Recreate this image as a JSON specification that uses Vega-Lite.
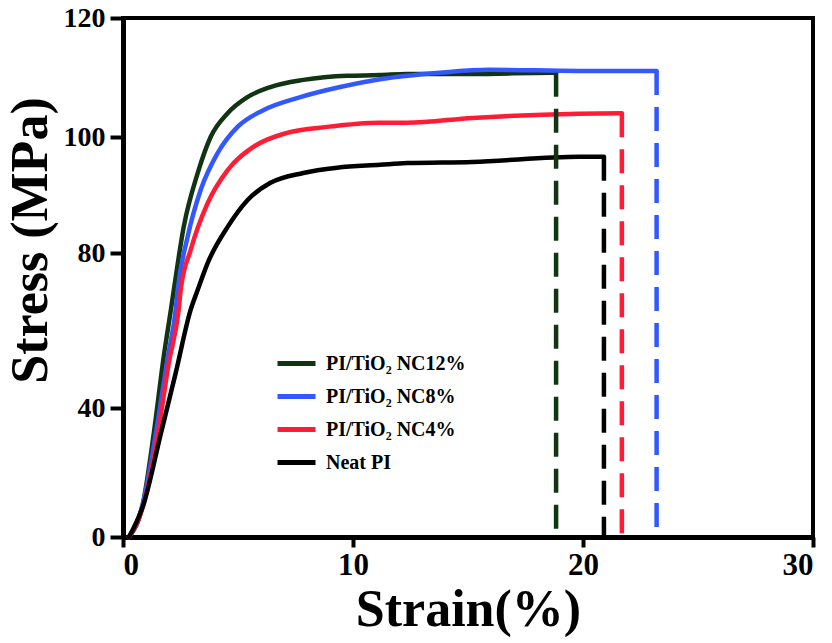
{
  "$schema": "https://vega.github.io/schema/vega-lite/v6.json",
  "width": 690,
  "height": 519,
  "autosize": {"type": "none"},
  "padding": {"left": 123, "top": 18, "right": 19, "bottom": 106},
  "background": "white",
  "config": {
    "font": "Liberation Serif",
    "view": {"stroke": "black", "strokeWidth": 4},
    "axis": {
      "domainColor": "black",
      "domainWidth": 5,
      "tickColor": "black",
      "tickWidth": 4,
      "grid": false,
      "labelFont": "Liberation Serif",
      "labelFontWeight": "bold",
      "labelColor": "black",
      "titleFont": "Liberation Serif",
      "titleFontWeight": "bold",
      "titleColor": "black",
      "titleFontSize": 52
    },
    "legend": {
      "labelFont": "Liberation Serif",
      "labelFontWeight": "bold",
      "labelFontSize": 20,
      "labelColor": "black",
      "symbolType": "stroke",
      "symbolSize": 1444,
      "symbolStrokeWidth": 5,
      "rowPadding": 1,
      "labelOffset": 8
    }
  },
  "datasets": {
    "curves": [
      {"sample": "PI/TiO₂ NC12%", "strain": 0.26, "stress": 0},
      {"sample": "PI/TiO₂ NC12%", "strain": 0.87, "stress": 10.5},
      {"sample": "PI/TiO₂ NC12%", "strain": 1.34, "stress": 32.2},
      {"sample": "PI/TiO₂ NC12%", "strain": 1.77, "stress": 53.2},
      {"sample": "PI/TiO₂ NC12%", "strain": 2.08, "stress": 65.3},
      {"sample": "PI/TiO₂ NC12%", "strain": 2.21, "stress": 70.5},
      {"sample": "PI/TiO₂ NC12%", "strain": 2.64, "stress": 84.5},
      {"sample": "PI/TiO₂ NC12%", "strain": 3.25, "stress": 93.8},
      {"sample": "PI/TiO₂ NC12%", "strain": 3.81, "stress": 100.0},
      {"sample": "PI/TiO₂ NC12%", "strain": 4.55, "stress": 104.0},
      {"sample": "PI/TiO₂ NC12%", "strain": 5.41, "stress": 106.7},
      {"sample": "PI/TiO₂ NC12%", "strain": 6.41, "stress": 108.4},
      {"sample": "PI/TiO₂ NC12%", "strain": 7.84, "stress": 109.6},
      {"sample": "PI/TiO₂ NC12%", "strain": 9.74, "stress": 110.3},
      {"sample": "PI/TiO₂ NC12%", "strain": 11.17, "stress": 110.4},
      {"sample": "PI/TiO₂ NC12%", "strain": 12.34, "stress": 110.6},
      {"sample": "PI/TiO₂ NC12%", "strain": 15.19, "stress": 110.6},
      {"sample": "PI/TiO₂ NC12%", "strain": 18.66, "stress": 110.8},
      {"sample": "PI/TiO₂ NC12%", "strain": 18.83, "stress": 110.8},
      {"sample": "PI/TiO₂ NC8%", "strain": 0.26, "stress": 0},
      {"sample": "PI/TiO₂ NC8%", "strain": 0.87, "stress": 10.5},
      {"sample": "PI/TiO₂ NC8%", "strain": 1.43, "stress": 32.2},
      {"sample": "PI/TiO₂ NC8%", "strain": 1.95, "stress": 53.2},
      {"sample": "PI/TiO₂ NC8%", "strain": 2.29, "stress": 65.3},
      {"sample": "PI/TiO₂ NC8%", "strain": 2.38, "stress": 70.5},
      {"sample": "PI/TiO₂ NC8%", "strain": 2.81, "stress": 82.8},
      {"sample": "PI/TiO₂ NC8%", "strain": 3.38, "stress": 90.9},
      {"sample": "PI/TiO₂ NC8%", "strain": 4.11, "stress": 97.2},
      {"sample": "PI/TiO₂ NC8%", "strain": 4.98, "stress": 101.7},
      {"sample": "PI/TiO₂ NC8%", "strain": 6.10, "stress": 104.5},
      {"sample": "PI/TiO₂ NC8%", "strain": 7.71, "stress": 106.7},
      {"sample": "PI/TiO₂ NC8%", "strain": 9.44, "stress": 108.4},
      {"sample": "PI/TiO₂ NC8%", "strain": 11.17, "stress": 109.7},
      {"sample": "PI/TiO₂ NC8%", "strain": 13.77, "stress": 110.8},
      {"sample": "PI/TiO₂ NC8%", "strain": 15.93, "stress": 111.3},
      {"sample": "PI/TiO₂ NC8%", "strain": 19.83, "stress": 111.1},
      {"sample": "PI/TiO₂ NC8%", "strain": 23.20, "stress": 111.1},
      {"sample": "PI/TiO₂ NC4%", "strain": 0.26, "stress": 0},
      {"sample": "PI/TiO₂ NC4%", "strain": 0.91, "stress": 10.5},
      {"sample": "PI/TiO₂ NC4%", "strain": 1.52, "stress": 32.2},
      {"sample": "PI/TiO₂ NC4%", "strain": 1.99, "stress": 51.6},
      {"sample": "PI/TiO₂ NC4%", "strain": 2.42, "stress": 65.3},
      {"sample": "PI/TiO₂ NC4%", "strain": 2.51, "stress": 70.5},
      {"sample": "PI/TiO₂ NC4%", "strain": 2.94, "stress": 80.5},
      {"sample": "PI/TiO₂ NC4%", "strain": 3.68, "stress": 88.6},
      {"sample": "PI/TiO₂ NC4%", "strain": 4.55, "stress": 94.3},
      {"sample": "PI/TiO₂ NC4%", "strain": 5.67, "stress": 98.3},
      {"sample": "PI/TiO₂ NC4%", "strain": 7.14, "stress": 100.7},
      {"sample": "PI/TiO₂ NC4%", "strain": 8.87, "stress": 101.7},
      {"sample": "PI/TiO₂ NC4%", "strain": 11.17, "stress": 102.4},
      {"sample": "PI/TiO₂ NC4%", "strain": 12.34, "stress": 102.4},
      {"sample": "PI/TiO₂ NC4%", "strain": 15.19, "stress": 103.2},
      {"sample": "PI/TiO₂ NC4%", "strain": 19.83, "stress": 103.9},
      {"sample": "PI/TiO₂ NC4%", "strain": 21.69, "stress": 104.0},
      {"sample": "Neat PI", "strain": 0.26, "stress": 0},
      {"sample": "Neat PI", "strain": 0.91, "stress": 10.5},
      {"sample": "Neat PI", "strain": 1.65, "stress": 32.2},
      {"sample": "Neat PI", "strain": 2.29, "stress": 49.0},
      {"sample": "Neat PI", "strain": 2.94, "stress": 65.3},
      {"sample": "Neat PI", "strain": 3.25, "stress": 70.5},
      {"sample": "Neat PI", "strain": 3.68, "stress": 77.4},
      {"sample": "Neat PI", "strain": 4.55, "stress": 84.5},
      {"sample": "Neat PI", "strain": 5.41, "stress": 89.1},
      {"sample": "Neat PI", "strain": 6.41, "stress": 92.1},
      {"sample": "Neat PI", "strain": 7.84, "stress": 93.8},
      {"sample": "Neat PI", "strain": 9.31, "stress": 94.7},
      {"sample": "Neat PI", "strain": 11.17, "stress": 95.2},
      {"sample": "Neat PI", "strain": 12.34, "stress": 95.5},
      {"sample": "Neat PI", "strain": 15.19, "stress": 95.7},
      {"sample": "Neat PI", "strain": 19.83, "stress": 96.6},
      {"sample": "Neat PI", "strain": 20.91, "stress": 96.6}
    ],
    "breaks": [
      {"sample": "PI/TiO₂ NC12%", "strain": 18.83, "stress": 110.8},
      {"sample": "PI/TiO₂ NC8%", "strain": 23.20, "stress": 111.1},
      {"sample": "PI/TiO₂ NC4%", "strain": 21.69, "stress": 104.0},
      {"sample": "Neat PI", "strain": 20.91, "stress": 96.6}
    ]
  },
  "encoding": {
    "x": {
      "field": "strain",
      "type": "quantitative",
      "scale": {"domain": [0, 30], "nice": false, "zero": false},
      "axis": {
        "values": [0, 10, 20, 30],
        "title": "Strain(%)",
        "labelFontSize": 31,
        "tickSize": 10,
        "labelPadding": 3,
        "titleX": 345,
        "titleY": 88,
        "titleBaseline": "alphabetic"
      }
    },
    "y": {
      "field": "stress",
      "type": "quantitative",
      "scale": {
        "domain": [0, 40, 80, 100, 120],
        "range": [519, 390, 235, 119, 0],
        "nice": false,
        "zero": false
      },
      "axis": {
        "values": [0, 40, 80, 100, 120],
        "title": "Stress (MPa)",
        "labelFontSize": 28,
        "tickSize": 13,
        "labelPadding": 5,
        "titleAngle": -90,
        "titleX": -77,
        "titleY": 222,
        "titleAlign": "center",
        "titleBaseline": "alphabetic"
      }
    },
    "color": {
      "field": "sample",
      "type": "nominal",
      "scale": {
        "domain": ["PI/TiO₂ NC12%", "PI/TiO₂ NC8%", "PI/TiO₂ NC4%", "Neat PI"],
        "range": ["#123412", "#3358ff", "#ff1c34", "#000000"]
      },
      "legend": {"title": null, "orient": "none", "legendX": 152, "legendY": 324}
    }
  },
  "layer": [
    {
      "data": {"name": "curves"},
      "mark": {"type": "line", "strokeWidth": 4.5, "strokeCap": "round", "interpolate": "monotone"},
      "encoding": {
        "detail": {"field": "sample"}
      }
    },
    {
      "data": {"name": "breaks"},
      "mark": {"type": "rule", "strokeWidth": 4.5, "strokeDash": [24, 12]},
      "encoding": {
        "y2": {"datum": 0}
      }
    }
  ]
}
